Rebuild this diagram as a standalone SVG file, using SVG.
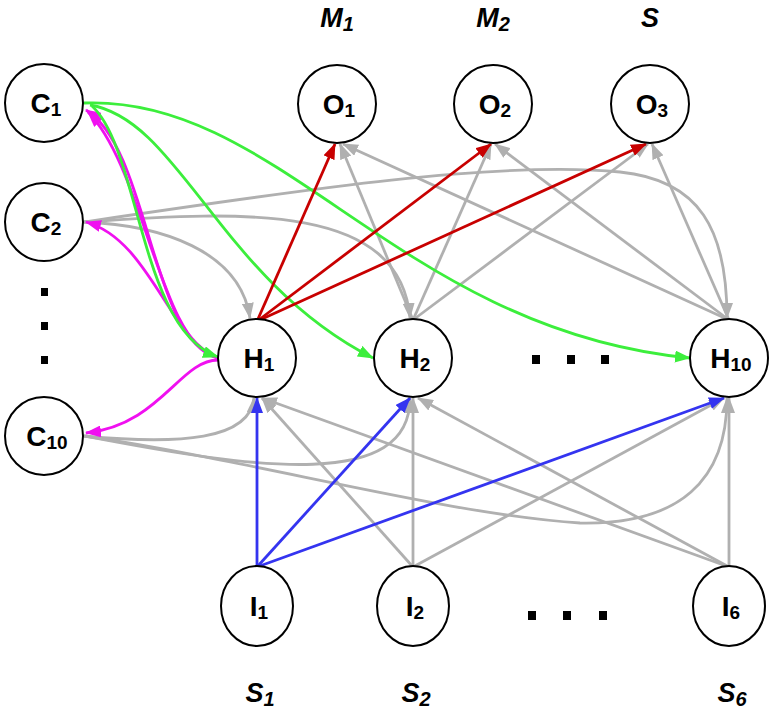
<svg xmlns="http://www.w3.org/2000/svg" width="776" height="722" viewBox="0 0 776 722">
<style>
.node{fill:#fff;stroke:#000;stroke-width:2}
.lbl{font-family:"Liberation Sans","DejaVu Sans",sans-serif;font-weight:bold;font-size:28px;fill:#000;text-anchor:middle}
.sub{font-size:19px}
.ttl{font-family:"Liberation Sans","DejaVu Sans",sans-serif;font-weight:bold;font-style:italic;font-size:27px;fill:#000;text-anchor:middle}
.tsub{font-size:20px}
.e{fill:none;stroke-width:2.8}
.g{stroke:#b0b0b0;marker-end:url(#ag)}
.r{stroke:#c80000;marker-end:url(#ar)}
.b{stroke:#3434f0;marker-end:url(#ab)}
.gr{stroke:#3cee3c;marker-end:url(#agr)}
.m{stroke:#f010f0;marker-end:url(#am)}
.dot{fill:#000}
</style>
<defs>
<marker id="ag" viewBox="0 0 16 12" refX="15" refY="6" markerWidth="16" markerHeight="12" markerUnits="userSpaceOnUse" orient="auto"><path d="M0,0L16,6L0,12z" fill="#b0b0b0"/></marker>
<marker id="ar" viewBox="0 0 16 12" refX="15" refY="6" markerWidth="16" markerHeight="12" markerUnits="userSpaceOnUse" orient="auto"><path d="M0,0L16,6L0,12z" fill="#c80000"/></marker>
<marker id="ab" viewBox="0 0 16 12" refX="15" refY="6" markerWidth="16" markerHeight="12" markerUnits="userSpaceOnUse" orient="auto"><path d="M0,0L16,6L0,12z" fill="#3434f0"/></marker>
<marker id="agr" viewBox="0 0 16 12" refX="15" refY="6" markerWidth="16" markerHeight="12" markerUnits="userSpaceOnUse" orient="auto"><path d="M0,0L16,6L0,12z" fill="#3cee3c"/></marker>
<marker id="am" viewBox="0 0 16 12" refX="15" refY="6" markerWidth="16" markerHeight="12" markerUnits="userSpaceOnUse" orient="auto"><path d="M0,0L16,6L0,12z" fill="#f010f0"/></marker>
</defs>
<rect width="776" height="722" fill="#fff"/>
<g id="connectors">
<path class="e g" d="M413,320 L340,144"/>
<path class="e g" d="M729,320 L343,144"/>
<path class="e g" d="M413,320 L491,144"/>
<path class="e g" d="M729,320 L495,144"/>
<path class="e g" d="M413,320 L648,144"/>
<path class="e g" d="M729,320 L652,144"/>
<path class="e g" d="M84,222 C160,225 240,250 250,318"/>
<path class="e g" d="M84,222 C250,210 400,205 410,318"/>
<path class="e g" d="M84,222 C300,190 500,160 620,172 C700,180 727,230 727,318"/>
<path class="e g" d="M84,436 C180,445 250,440 254,398"/>
<path class="e g" d="M84,436 C260,470 410,490 410,398"/>
<path class="e g" d="M84,436 C250,460 450,515 580,523 C680,525 727,480 727,398"/>
<path class="e g" d="M413,567 L262,398"/>
<path class="e g" d="M413,567 L413,398"/>
<path class="e g" d="M413,567 L724,398"/>
<path class="e g" d="M729,567 L262,398"/>
<path class="e g" d="M729,567 L418,398"/>
<path class="e g" d="M729,567 L729,398"/>
<path class="e m" d="M218,358 C150,340 150,150 86,110"/>
<path class="e m" d="M218,358 C160,345 145,170 88,112"/>
<path class="e m" d="M218,358 C170,340 150,240 86,222"/>
<path class="e m" d="M218,360 C180,360 160,425 86,433"/>
<path class="e gr" d="M84,103 C280,95 400,330 690,358"/>
<path class="e gr" d="M90,105 C180,120 220,280 373,358"/>
<path class="e gr" d="M92,106 C140,150 140,330 218,357"/>
<path class="e r" d="M258,319 L335,144"/>
<path class="e r" d="M260,319 L491,144"/>
<path class="e r" d="M262,319 L646,144"/>
<path class="e b" d="M257,567 L257,398"/>
<path class="e b" d="M257,567 L410,398"/>
<path class="e b" d="M257,567 L724,398"/>
</g>
<g id="C1"><circle class="node" cx="44" cy="103" r="39"/><text class="lbl" x="46" y="113">C<tspan class="sub" dy="3">1</tspan></text></g>
<g id="C2"><circle class="node" cx="44" cy="222" r="39"/><text class="lbl" x="46" y="232">C<tspan class="sub" dy="3">2</tspan></text></g>
<g id="C10"><circle class="node" cx="44" cy="436" r="39"/><text class="lbl" x="47" y="446">C<tspan class="sub" dy="3">10</tspan></text></g>
<g id="O1"><circle class="node" cx="337" cy="104" r="39"/><text class="lbl" x="339" y="114">O<tspan class="sub" dy="3">1</tspan></text></g>
<g id="O2"><circle class="node" cx="493" cy="104" r="39"/><text class="lbl" x="495" y="114">O<tspan class="sub" dy="3">2</tspan></text></g>
<g id="O3"><circle class="node" cx="650" cy="104" r="39"/><text class="lbl" x="652" y="114">O<tspan class="sub" dy="3">3</tspan></text></g>
<g id="H1"><circle class="node" cx="257" cy="358" r="39"/><text class="lbl" x="259" y="368">H<tspan class="sub" dy="3">1</tspan></text></g>
<g id="H2"><circle class="node" cx="413" cy="358" r="39"/><text class="lbl" x="415" y="368">H<tspan class="sub" dy="3">2</tspan></text></g>
<g id="H10"><circle class="node" cx="729" cy="358" r="39"/><text class="lbl" x="731" y="368">H<tspan class="sub" dy="3">10</tspan></text></g>
<g id="I1"><ellipse class="node" cx="257" cy="606" rx="36" ry="40"/><text class="lbl" x="259" y="616">I<tspan class="sub" dy="3">1</tspan></text></g>
<g id="I2"><ellipse class="node" cx="413" cy="606" rx="36" ry="40"/><text class="lbl" x="415" y="616">I<tspan class="sub" dy="3">2</tspan></text></g>
<g id="I6"><ellipse class="node" cx="729" cy="606" rx="36" ry="40"/><text class="lbl" x="731" y="616">I<tspan class="sub" dy="3">6</tspan></text></g>
<g id="labels">
<text class="ttl" x="337" y="27">M<tspan class="tsub" dy="4">1</tspan></text>
<text class="ttl" x="493" y="27">M<tspan class="tsub" dy="4">2</tspan></text>
<text class="ttl" x="650" y="27">S</text>
<text class="ttl" x="260" y="702">S<tspan class="tsub" dy="4">1</tspan></text>
<text class="ttl" x="416" y="702">S<tspan class="tsub" dy="4">2</tspan></text>
<text class="ttl" x="732" y="702">S<tspan class="tsub" dy="4">6</tspan></text>
</g>
<g id="dots">
<rect class="dot" x="41" y="288" width="7" height="8"/>
<rect class="dot" x="41" y="322" width="7" height="8"/>
<rect class="dot" x="41" y="356" width="7" height="8"/>
<rect class="dot" x="532" y="355" width="8" height="9"/>
<rect class="dot" x="567" y="355" width="8" height="9"/>
<rect class="dot" x="601" y="355" width="8" height="9"/>
<rect class="dot" x="528" y="611" width="8" height="9"/>
<rect class="dot" x="563" y="611" width="8" height="9"/>
<rect class="dot" x="599" y="611" width="8" height="9"/>
</g>
</svg>
